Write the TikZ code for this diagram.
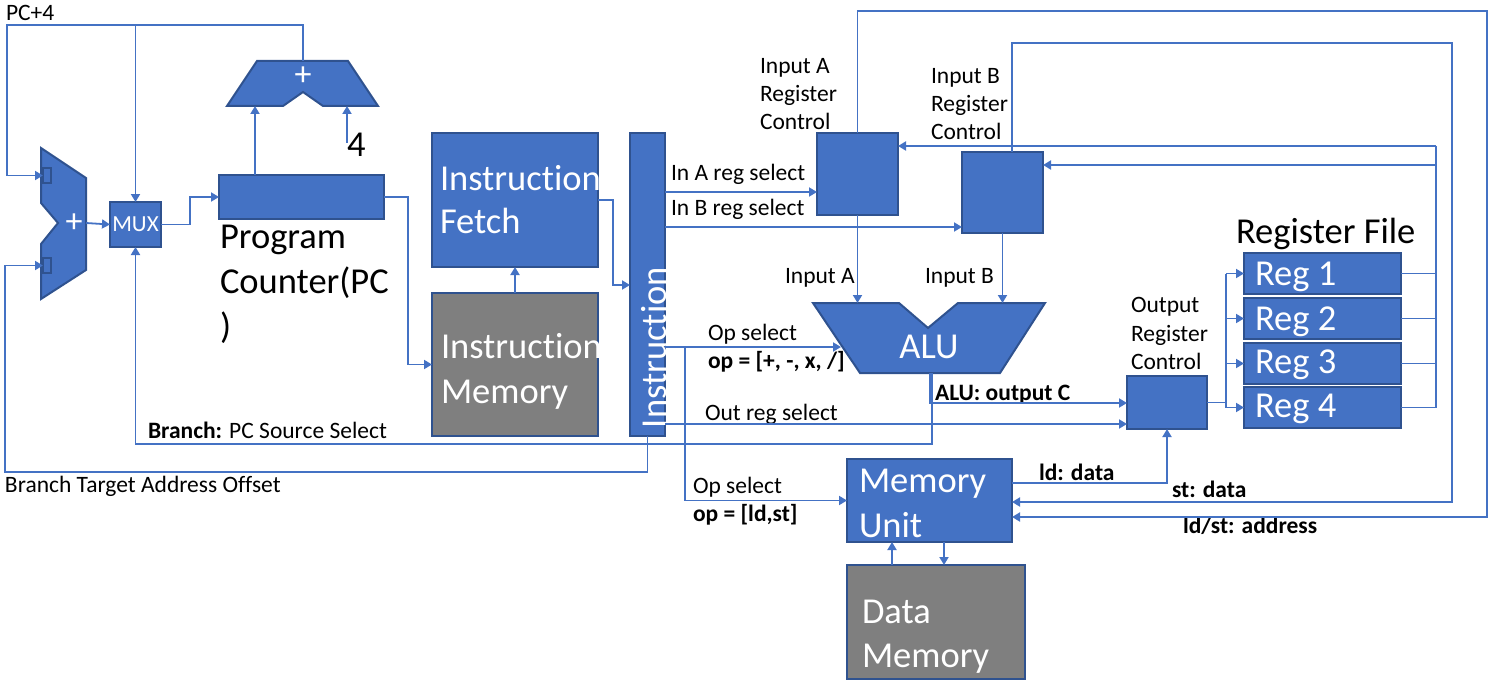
\documentclass[tikz,border=0pt]{standalone}
\usepackage{fontspec}
\setmainfont[Ligatures=NoCommon]{Carlito}
\usetikzlibrary{arrows.meta}
\definecolor{blu}{HTML}{4472C4}
\definecolor{bord}{HTML}{2F528F}
\definecolor{gry}{HTML}{7F7F7F}
\begin{document}
\begin{tikzpicture}[x=1pt,y=-1pt,
 blk/.style={draw=bord, fill=blu, line width=2pt, inner sep=0pt, outer sep=0pt, anchor=north west},
 gblk/.style={blk, fill=gry},
 shp/.style={draw=bord, fill=blu, line width=2pt, line join=miter},
 port/.style={draw=bord, fill=blu, line width=1.5pt, inner sep=0pt, outer sep=0pt, minimum width=8pt, minimum height=15pt},
 conn/.style={draw=blu, line width=1.8pt},
 arr/.style={conn, -{Triangle[length=8pt,width=9pt]}},
 lbl/.style={font=\fontsize{23.5}{28}\selectfont, anchor=base west, inner sep=0pt, outer sep=0pt},
 blbl/.style={lbl, font=\fontsize{23.5}{28}\selectfont\bfseries},
 big/.style={font=\fontsize{36.5}{44}\selectfont, anchor=base west, inner sep=0pt, outer sep=0pt},
 wbig/.style={big, text=white},
 plus/.style={text=white, font=\fontsize{34}{36}\selectfont, inner sep=0pt},
]
\useasboundingbox (0,0) rectangle (1489,682);

% ---------- shapes ----------
% left adder
\draw[shp] (41,148) -- (86,178) -- (86,270) -- (41,299) -- (41,244) -- (58,223) -- (41,203) -- cycle;
\node[port] (pA) at (47,175.5) {};
\node[port] (pB) at (47,265.5) {};
\node[plus] (laplus) at (74,223) {+};
\coordinate (laout) at (86,223);

% top adder
\draw[shp] (257,61) -- (348,61) -- (378,106) -- (323,106) -- (303,92) -- (283,106) -- (227,106) -- cycle;
\node[plus] (taplus) at (303,76) {+};
\coordinate (taout) at (303,61);
\coordinate (tain1) at (255,106);
\coordinate (tain2) at (347,106);

% boxes
\node[blk, minimum width=51pt, minimum height=45pt] (mux) at (110,202) {};
\node[text=white, font=\fontsize{23}{26}\selectfont, inner sep=0pt] (muxt) at (mux.center) {MUX};
\node[blk, minimum width=165pt, minimum height=44pt] (pc) at (219,175) {};
\node[blk, minimum width=166pt, minimum height=134pt] (fetch) at (432,133) {};
\node[gblk, minimum width=166pt, minimum height=143pt] (imem) at (432,293) {};
\node[blk, minimum width=35pt, minimum height=303pt] (bar) at (630,133) {};
\node[blk, minimum width=81pt, minimum height=82pt] (ina) at (817,133) {};
\node[blk, minimum width=81pt, minimum height=81pt] (inb) at (962,152) {};
\node[blk, minimum width=80pt, minimum height=53pt] (orc) at (1127,376) {};
\node[blk, minimum width=157pt, minimum height=41pt] (r1) at (1244,253) {};
\node[blk, minimum width=157pt, minimum height=41pt] (r2) at (1244,298) {};
\node[blk, minimum width=157pt, minimum height=41pt] (r3) at (1244,343) {};
\node[blk, minimum width=157pt, minimum height=41pt] (r4) at (1244,387) {};
\node[blk, minimum width=165pt, minimum height=83pt] (mem) at (847,459) {};
\node[gblk, minimum width=178pt, minimum height=114pt] (dmem) at (847,565) {};

% ALU
\draw[shp] (813,303) -- (899,303) -- (928,328) -- (958,303) -- (1045,303) -- (1000,373) -- (860,373) -- cycle;
\coordinate (aluop) at (841,347);
\node[wbig, anchor=base] (alut) at (929,358) {ALU};

% ---------- texts ----------
\node[lbl] (pc4) at (6,21) {PC+4};
\node[big] (four) at (347,157) {4};
\node[big] (pcl1) at (220,248) {Program};
\node[big] (pcl2) at (220,293) {Counter(PC};
\node[big] (pcl3) at (220,338) {)};
\node[wbig] (ft1) at (440,190) {Instruction};
\node[wbig] (ft2) at (440,233) {Fetch};
\node[wbig] (im1) at (441,358) {Instruction};
\node[wbig] (im2) at (441,403) {Memory};
\node[wbig, rotate=90] (bart) at (666,428) {Instruction};
\node[lbl] (ial1) at (760,74) {Input A};
\node[lbl] (ial2) at (760,102) {Register};
\node[lbl] (ial3) at (760,130) {Control};
\node[lbl] (ibl1) at (931,84) {Input B};
\node[lbl] (ibl2) at (931,112) {Register};
\node[lbl] (ibl3) at (931,140) {Control};
\node[lbl] (inasel) at (671,180) {In A reg select};
\node[lbl] (inbsel) at (671,215) {In B reg select};
\node[lbl] (inpa) at (785,283) {Input A};
\node[lbl] (inpb) at (925,283) {Input B};
\node[lbl] (opsel) at (708,340) {Op select};
\node[blbl] (opset) at (708,368) {op = [+, -, x, /]};
\node[blbl] (aluc) at (935,400) {ALU: output C};
\node[lbl] (outsel) at (705,420) {Out reg select};
\node[lbl] (brl) at (148,438) {\textbf{Branch:} PC Source Select};
\node[lbl] (btl) at (5,492) {Branch Target Address Offset};
\node[lbl] (orl1) at (1131,312) {Output};
\node[lbl] (orl2) at (1131,341) {Register};
\node[lbl] (orl3) at (1131,369) {Control};
\node[big] (rf) at (1236,243) {Register File};
\node[wbig] (r1t) at (1255,285) {Reg 1};
\node[wbig] (r2t) at (1255,330) {Reg 2};
\node[wbig] (r3t) at (1255,373) {Reg 3};
\node[wbig] (r4t) at (1255,417) {Reg 4};
\node[wbig] (mu1) at (859,492) {Memory};
\node[wbig] (mu2) at (859,537) {Unit};
\node[wbig] (dm1) at (862,623) {Data};
\node[wbig] (dm2) at (862,667) {Memory};
\node[blbl] (ldd) at (1039,480) {ld: data};
\node[blbl] (std) at (1172,497) {st: data};
\node[blbl] (lda) at (1183,533) {ld/st: address};
\node[lbl] (mops) at (693,493) {Op select};
\node[blbl] (mopt) at (693,521) {op = [ld,st]};

% ---------- connectors ----------
% PC+4 bus
\draw[arr] (taout) -- (303,25) -| (7,175.5) -- (pA.west);
\draw[arr] (135.5,25) -- (mux.north);
% adder -> mux -> PC
\draw[arr] (laout) -- (mux.west);
\draw[arr] (mux.east) -- (190,224.5) |- (pc.west);
% PC -> adder
\draw[arr] (tain1 |- pc.north) -- (tain1);
\draw[arr] (347,143) -- (tain2);
% PC -> instruction memory
\draw[arr] (pc.east) -- (408,197) |- (imem.west);
\draw[arr] (imem.north) -- (fetch.south);
\draw[arr] (fetch.east) -- (613,200) |- (bar.west |- 0,285);
% instruction outputs
\draw[arr] (bar.east |- 0,192) -- (ina.west |- 0,192);
\draw[arr] (bar.east |- 0,227) -- (inb.west |- 0,227);
\draw[arr] (bar.east |- 0,347) -- (aluop);
\draw[arr] (685,347) |- (mem.west);
\draw[arr] (bar.east |- 0,424) -- (orc.west |- 0,424);
% register controls -> ALU
\draw[arr] (ina.south) -- (ina.south |- 0,303);
\draw[arr] (inb.south) -- (inb.south |- 0,303);
% ALU outputs
\draw[arr] (930,373) |- (orc.west |- 0,403);
\draw[arr] (932,373) -- (932,444) -| (mux.south);
% branch target
\draw[arr] (bar.south) -- (647.5,472) -| (5,265.5) -- (pB.west);
% output register control -> registers
\draw[conn] (orc.east) -- (1226,402.5);
\draw[conn] (1226,273.5) -- (1226,407.5);
\draw[arr] (1226,273.5) -- (r1.west);
\draw[arr] (1226,318.5) -- (r2.west);
\draw[arr] (1226,363.5) -- (r3.west);
\draw[arr] (1226,407.5) -- (r4.west);
% registers -> register controls
\draw[conn] (r1.east) -- (1436,273.5);
\draw[conn] (r2.east) -- (1436,318.5);
\draw[conn] (r3.east) -- (1436,363.5);
\draw[conn] (r4.east) -- (1436,407.5);
\draw[conn] (1436,146) -- (1436,407.5);
\draw[arr] (1436,146) -- (ina.east |- 0,146);
\draw[arr] (1436,165) -- (inb.east |- 0,165);
% to memory unit
\draw[arr] (ina.north) -- (857.5,11) -| (1487,517) -- (mem.east |- 0,517);
\draw[arr] (1012,152) -- (1012,43) -| (1452,502) -- (mem.east |- 0,502);
\draw[arr] (mem.east |- 0,483) -| (orc.south);
% memory <-> data memory
\draw[arr] (dmem.north -| 892,0) -- (mem.south -| 892,0);
\draw[arr] (mem.south -| 944,0) -- (dmem.north -| 944,0);
\end{tikzpicture}
\end{document}
